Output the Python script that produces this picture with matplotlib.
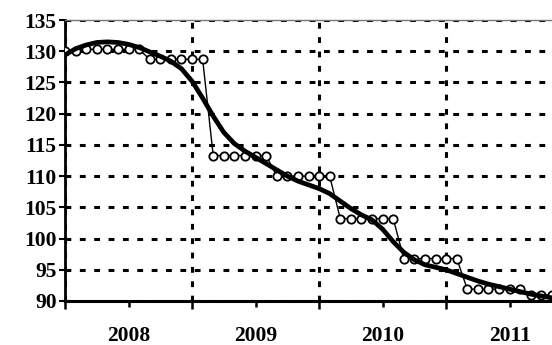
import numpy as np
import matplotlib.pyplot as plt

# monthly index, Jan 2008 = 0
months = np.arange(47)

# observed index, held flat for six months at a time
observed = ([130.0] * 2 + [130.3] * 6 + [128.7] * 6 + [113.3] * 6 +
            [110.0] * 6 + [103.2] * 6 + [96.8] * 6 + [91.9] * 6 + [91.0] * 3)

# smoothed trend
trend = [129.4, 130.4, 131.0, 131.4, 131.5, 131.4, 131.1, 130.6, 129.9, 129.2,
         128.4, 127.2, 125.2, 122.5, 119.6, 117.0, 115.2, 114.0, 113.0, 112.0,
         111.0, 110.0, 109.2, 108.6, 108.0, 107.2, 106.0, 104.8, 103.8, 103.0,
         101.5, 99.5, 97.8, 96.6, 95.8, 95.4, 95.0, 94.4, 93.8, 93.2,
         92.7, 92.3, 91.9, 91.5, 91.1, 90.8, 90.5]

years = ["2008", "2009", "2010", "2011"]
y_ticks = [90, 95, 100, 105, 110, 115, 120, 125, 130, 135]

font = {"family": "Liberation Serif", "weight": "bold", "size": 15.5}

fig = plt.figure(figsize=(5.52, 3.45), dpi=100)
ax = fig.add_axes([65 / 552, 1 - 301 / 345, 1 - 65 / 552, (301 - 20) / 345])

ax.plot(months, observed, color="black", lw=1.0, marker="o", ms=6,
        mfc="white", mec="black", mew=1.3, zorder=3)
ax.plot(months, trend, color="black", lw=3.4, solid_capstyle="round", zorder=4)

ax.set_xlim(0, 46)
ax.set_ylim(90, 135)

ax.set_yticks(y_ticks)
ax.set_yticklabels([str(v) for v in y_ticks], fontdict=font)
ax.set_xticks([0, 12, 24, 36])
ax.set_xticklabels([])
ax.set_xticks([6, 18, 30, 42], minor=True)
ax.set_xticklabels(years, minor=True, fontdict=font)

ax.tick_params(axis="y", direction="out", length=4, width=1.5, pad=2)
ax.tick_params(axis="x", which="major", direction="out", length=6, width=1.8)
ax.tick_params(axis="x", which="minor", direction="out", length=4, width=1.8, pad=14)

ax.grid(True, which="major", color="black", lw=2.2, linestyle=(0, (1.9, 2.8)))
ax.set_axisbelow(True)

ax.spines["left"].set_linewidth(2)
ax.spines["bottom"].set_linewidth(2.2)
ax.spines["top"].set_color("#777777")
ax.spines["top"].set_linewidth(1)
ax.spines["right"].set_visible(False)

fig.savefig("out.png", dpi=100)
